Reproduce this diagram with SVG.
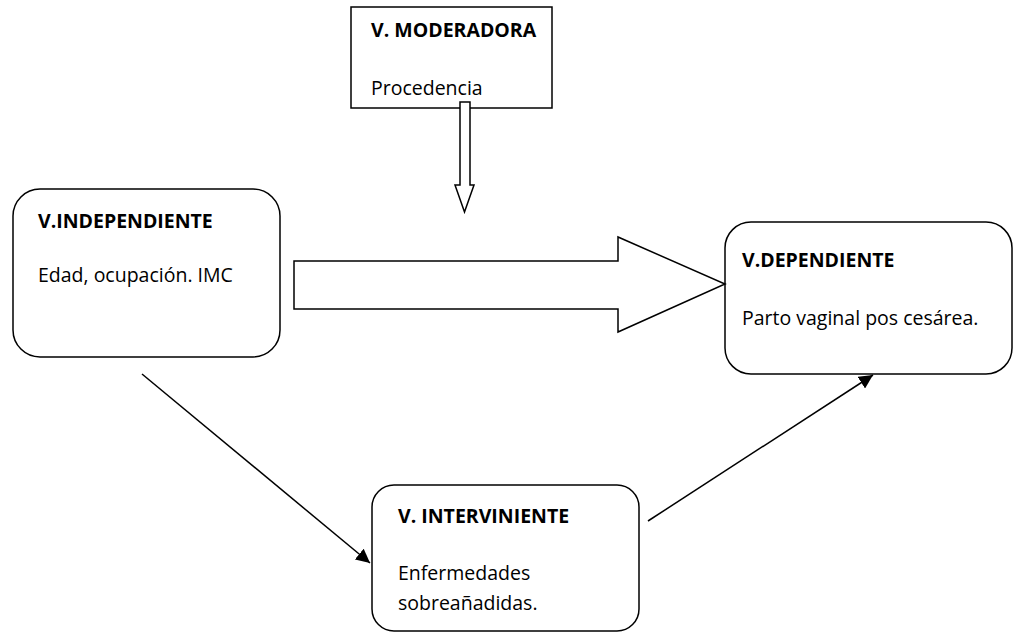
<svg xmlns="http://www.w3.org/2000/svg" width="1014" height="633" viewBox="0 0 1014 633">
<defs>
<style>
.box{fill:#fff;stroke:#000;stroke-width:1.5}
.t{font-family:"Open Sans","Liberation Sans",sans-serif;font-size:19.5px;fill:#000}
.b{font-weight:bold}
.ln{stroke:#000;stroke-width:1.5;fill:none}
</style>
<marker id="ah" viewBox="0 0 10 10" refX="10" refY="5" markerWidth="14" markerHeight="14" markerUnits="userSpaceOnUse" orient="auto">
<path d="M0,0 L10,5 L0,10 Z" fill="#000"/>
</marker>
</defs>
<rect width="1014" height="633" fill="#fff"/>
<g id="moderadora">
<rect class="box" x="351" y="7" width="201" height="101"/>
<text class="t b" x="371" y="37">V. MODERADORA</text>
<text class="t" x="371" y="95">Procedencia</text>
</g>
<g id="independiente">
<rect class="box" x="13" y="189" width="267" height="168" rx="27" ry="27"/>
<text class="t b" x="38" y="228">V.INDEPENDIENTE</text>
<text class="t" x="38" y="282">Edad, ocupación. IMC</text>
</g>
<g id="dependiente">
<rect class="box" x="725" y="222" width="287" height="152" rx="26" ry="26"/>
<text class="t b" x="742" y="267">V.DEPENDIENTE</text>
<text class="t" x="742" y="325">Parto vaginal pos cesárea.</text>
</g>
<g id="interviniente">
<rect class="box" x="372" y="485" width="267" height="146" rx="22" ry="22"/>
<text class="t b" x="398" y="523">V. INTERVINIENTE</text>
<text class="t" x="398" y="580">Enfermedades</text>
<text class="t" x="398" y="610">sobreañadidas.</text>
</g>
<g id="connectors">
<path class="box" d="M460,102 L470,102 L470,185 L474,185 L464.5,212 L455,185 L460,185 Z"/>
<path class="box" d="M294,261 L618,261 L618,237 L725,284 L618,332 L618,309 L294,309 Z"/>
<line class="ln" x1="142" y1="374" x2="370" y2="563" marker-end="url(#ah)"/>
<line class="ln" x1="648" y1="521" x2="873" y2="375" marker-end="url(#ah)"/>
</g>
</svg>
